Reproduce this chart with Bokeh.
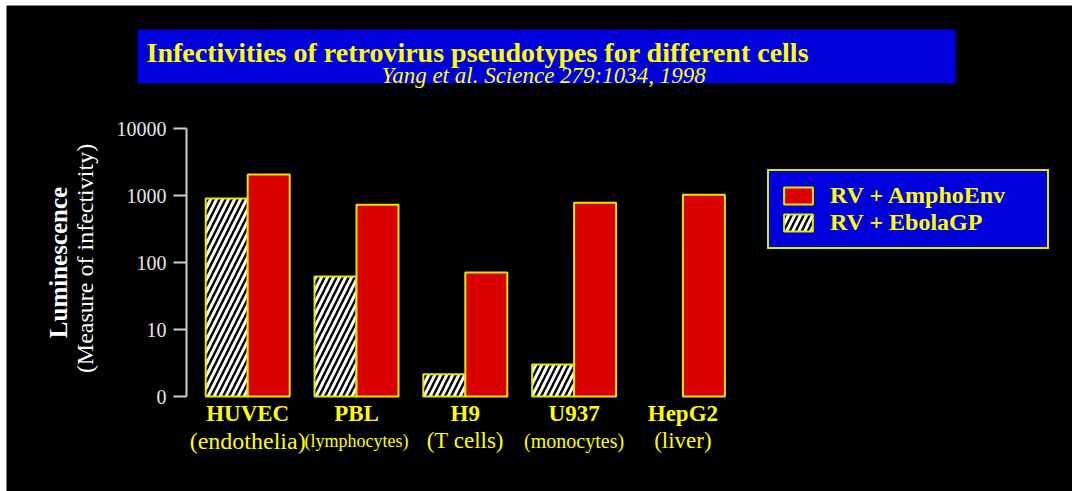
import math
from bokeh.plotting import figure
from bokeh.models import (Range1d, LinearScale, LogAxis, FixedTicker, Legend,
                          LegendItem, ColumnDataSource)
from bokeh.transform import dodge
from bokeh.core.properties import value
from bokeh.embed import file_html
from bokeh.resources import INLINE

# ---------------- data ----------------
cells = ["HUVEC", "PBL", "H9", "U937", "HepG2"]
cell_types = ["(endothelia)", "(lymphocytes)", "(T cells)", "(monocytes)", "(liver)"]
ampho_env = [2050, 730, 71, 780, 1030]
ebola_gp = [900, 62, 2.15, 3.0, float("nan")]   # no EbolaGP bar for HepG2
tick_values = [1, 10, 100, 1000, 10000]
tick_labels = ["0", "10", "100", "1000", "10000"]
series_labels = ["RV + AmphoEnv", "RV + EbolaGP"]
title_text = "Infectivities of retrovirus pseudotypes for different cells"
subtitle_text = "Yang et al.  Science 279:1034, 1998"
ylabel_main = "Luminescence"
ylabel_sub = "(Measure of infectivity)"

# ---------------- layout / style ----------------
W, H = 1072, 491
M_LEFT, M_TOP = 6, 5
SERIF = "Liberation Serif"
YEL = "#ffff00"
BAR_EDGE = "#e6e600"
RED = "#da0000"
BLUE = "#0000dc"

# page geometry
y_base_px, decade_px = 396.0, 67.0      # page y of value 1, pixels per decade
x0_px, group_px = 247.2, 108.8          # page x of first group centre, spacing
axis_px = 186.0                          # page x of the y axis line
bar_w = 0.386


def xd(px):
    return (px - x0_px) / group_px


def yd(py):
    return 10 ** ((y_base_px - py) / decade_px)


p = figure(width=W, height=H, output_backend="svg", toolbar_location=None,
           x_range=Range1d(xd(M_LEFT), xd(W)), y_range=Range1d(yd(H), yd(M_TOP)),
           y_axis_type="log", x_axis_location=None, y_axis_location=None,
           min_border=0, min_border_left=M_LEFT, min_border_top=M_TOP,
           background_fill_color="black", border_fill_color="white",
           outline_line_color=None)
p.grid.visible = False

# page-pixel helper ranges for decorations and texts
p.extra_x_ranges = {"px": Range1d(M_LEFT, W)}
p.extra_y_ranges = {"px": Range1d(H, M_TOP)}
p.extra_x_scales = {"px": LinearScale()}
p.extra_y_scales = {"px": LinearScale()}

# title box
p.quad(left=137, right=955, top=29, bottom=83, x_range_name="px",
       y_range_name="px", fill_color=BLUE, line_color=None)
p.text(x=[146], y=[52], text=[title_text], x_range_name="px", y_range_name="px",
       text_font=value(SERIF), text_font_style="bold", text_font_size="28px",
       text_color=YEL, text_align="left", text_baseline="alphabetic")
p.text(x=[546], y=[75], text=[subtitle_text], x_range_name="px", y_range_name="px",
       text_font=value(SERIF), text_font_style="italic", text_font_size="23px",
       text_color=YEL, text_align="center", text_baseline="alphabetic")

# y axis labels
p.text(x=[58], y=[262], text=[ylabel_main], x_range_name="px", y_range_name="px",
       angle=math.pi / 2, text_font=value(SERIF), text_font_style="bold",
       text_font_size="25px", text_color="white", text_align="center",
       text_baseline="middle")
p.text(x=[84], y=[258], text=[ylabel_sub], x_range_name="px", y_range_name="px",
       angle=math.pi / 2, text_font=value(SERIF), text_font_size="24px",
       text_color="white", text_align="center", text_baseline="middle")

# bars
idx = list(range(len(cells)))
src_a = ColumnDataSource(dict(x=idx, top=ampho_env))
src_e = ColumnDataSource(dict(x=idx, top=ebola_gp))
r_e = p.vbar(x=dodge("x", -bar_w / 2, range=p.x_range), top="top", bottom=1,
             width=bar_w, source=src_e, fill_color="black", hatch_pattern="/",
             hatch_color="white", hatch_scale=12, hatch_weight=3,
             line_color=BAR_EDGE, line_width=2)
r_a = p.vbar(x=dodge("x", bar_w / 2, range=p.x_range), top="top", bottom=1,
             width=bar_w, source=src_a, fill_color=RED, line_color=BAR_EDGE,
             line_width=2)

# category labels
type_sizes = ["24px", "18px", "23px", "20px", "23px"]
p.text(x=idx, y=[413] * len(cells), text=cells, y_range_name="px",
       text_font=value(SERIF), text_font_style="bold", text_font_size="23px",
       text_color=YEL, text_align="center", text_baseline="middle")
src_t = ColumnDataSource(dict(x=idx, y=[440] * len(cells), t=cell_types, s=type_sizes))
p.text(x="x", y="y", text="t", source=src_t, y_range_name="px",
       text_font=value(SERIF), text_font_size="s", text_color=YEL,
       text_align="center", text_baseline="middle")

# y axis
ax = LogAxis(fixed_location=xd(axis_px), bounds=(1, 10000),
             ticker=FixedTicker(ticks=tick_values, minor_ticks=[]),
             major_label_overrides=dict(zip(tick_values, tick_labels)),
             axis_line_color="#d0d0d0", axis_line_width=2,
             major_tick_line_color="#d0d0d0", major_tick_line_width=2,
             major_tick_out=13, major_tick_in=0, minor_tick_out=0, minor_tick_in=0,
             major_label_text_color="#e8e8e8", major_label_text_font=SERIF,
             major_label_text_font_size="20px", major_label_standoff=7)
p.add_layout(ax, "left")

# legend
legend = Legend(items=[LegendItem(label=series_labels[0], renderers=[r_a]),
                       LegendItem(label=series_labels[1], renderers=[r_e])],
                location=(767 - M_LEFT, H - 249), background_fill_color=BLUE,
                background_fill_alpha=1, border_line_color=BAR_EDGE,
                border_line_alpha=1, border_line_width=2, label_text_color=YEL,
                label_text_font=SERIF, label_text_font_style="bold",
                label_text_font_size="24px", glyph_width=36, glyph_height=21,
                label_standoff=14, label_width=206, label_height=20,
                padding=11, spacing=0, margin=0)
p.add_layout(legend)

open("out.html", "w").write(file_html(p, INLINE))
